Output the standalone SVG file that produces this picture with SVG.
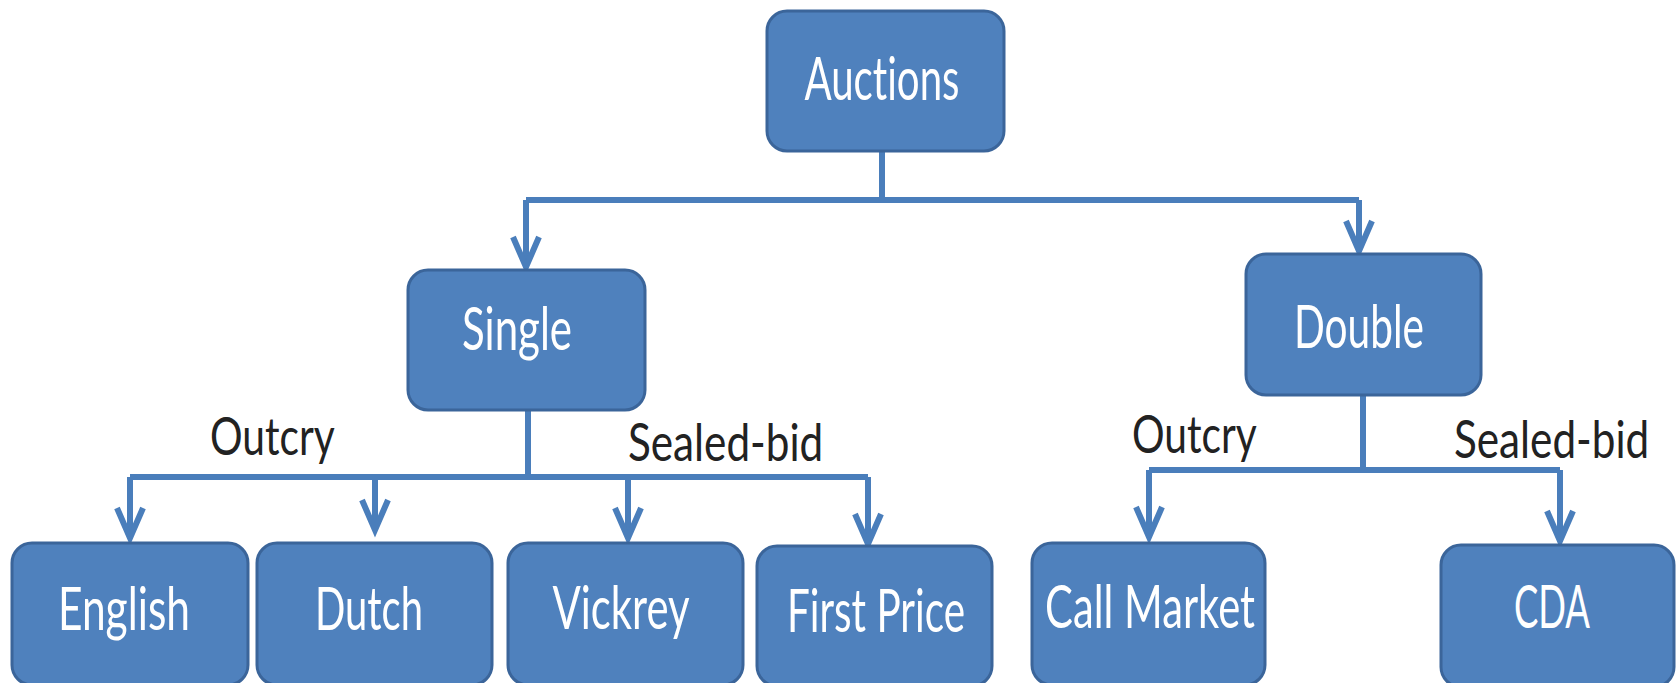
<svg xmlns="http://www.w3.org/2000/svg" width="1678" height="683" viewBox="0 0 1678 683">
<style>
.box{fill:#4F81BD;stroke:#3B659A;stroke-width:3}
.nt{fill:#ffffff;font-family:Lato,"Open Sans","Liberation Sans",sans-serif;font-size:60px;text-anchor:middle;font-variant-ligatures:none}
.lb{fill:#222222;font-family:Lato,"Open Sans","Liberation Sans",sans-serif;font-size:52px;font-variant-ligatures:none}
.c{fill:none;stroke:#4A7EBB;stroke-width:6}
.a{marker-end:url(#arr)}
</style>
<defs>
<marker id="arr" markerUnits="userSpaceOnUse" viewBox="-40 -20 44 40" markerWidth="44" markerHeight="40" refX="0" refY="0" orient="auto" overflow="visible">
<path d="M -30 -13 L 0 0 L -30 13" fill="none" stroke="#4A7EBB" stroke-width="6" stroke-linejoin="miter"/>
</marker>
</defs>
<rect width="1678" height="683" fill="#ffffff"/>
<g id="connectors">
<path class="c" d="M 882 152 V 200 M 526 200 H 1359"/>
<path class="c a" d="M 526 200 V 267"/>
<path class="c a" d="M 1359 200 V 251"/>
<path class="c" d="M 528 410 V 477 M 130 477 H 868"/>
<path class="c a" d="M 130 477 V 538"/>
<path class="c a" d="M 375 477 V 530"/>
<path class="c a" d="M 628 477 V 538"/>
<path class="c a" d="M 868 477 V 544"/>
<path class="c" d="M 1363 395 V 470 M 1149 470 H 1560"/>
<path class="c a" d="M 1149 470 V 537"/>
<path class="c a" d="M 1560 470 V 541"/>
</g>
<g id="labels">
<text class="lb" transform="translate(210,455) scale(0.8,1)" textLength="156" lengthAdjust="spacingAndGlyphs">Outcry</text>
<text class="lb" transform="translate(628,461) scale(0.8,1)" textLength="244" lengthAdjust="spacingAndGlyphs">Sealed-bid</text>
<text class="lb" transform="translate(1132,453) scale(0.8,1)" textLength="156" lengthAdjust="spacingAndGlyphs">Outcry</text>
<text class="lb" transform="translate(1454,458) scale(0.8,1)" textLength="244" lengthAdjust="spacingAndGlyphs">Sealed-bid</text>
</g>
<g id="auctions">
<rect class="box" x="767" y="11" width="237" height="140" rx="20"/>
<text class="nt" x="882" y="100" textLength="155" lengthAdjust="spacingAndGlyphs">Auctions</text>
</g>
<g id="single">
<rect class="box" x="408" y="270" width="237" height="140" rx="20"/>
<text class="nt" x="517" y="350" textLength="110" lengthAdjust="spacingAndGlyphs">Single</text>
</g>
<g id="double">
<rect class="box" x="1246" y="254" width="235" height="141" rx="20"/>
<text class="nt" x="1359" y="348" textLength="130" lengthAdjust="spacingAndGlyphs">Double</text>
</g>
<g id="english">
<rect class="box" x="12" y="543" width="236" height="142" rx="20"/>
<text class="nt" x="124" y="630" textLength="132" lengthAdjust="spacingAndGlyphs">English</text>
</g>
<g id="dutch">
<rect class="box" x="257" y="543" width="235" height="142" rx="20"/>
<text class="nt" x="369" y="630" textLength="108" lengthAdjust="spacingAndGlyphs">Dutch</text>
</g>
<g id="vickrey">
<rect class="box" x="508" y="543" width="235" height="142" rx="20"/>
<text class="nt" x="621" y="629" textLength="137" lengthAdjust="spacingAndGlyphs">Vickrey</text>
</g>
<g id="firstprice">
<rect class="box" x="757" y="546" width="235" height="140" rx="20"/>
<text class="nt" x="876" y="632" textLength="178" lengthAdjust="spacingAndGlyphs">First Price</text>
</g>
<g id="callmarket">
<rect class="box" x="1032" y="543" width="233" height="142" rx="20"/>
<text class="nt" x="1150" y="628" textLength="210" lengthAdjust="spacingAndGlyphs">Call Market</text>
</g>
<g id="cda">
<rect class="box" x="1441" y="545" width="233" height="142" rx="20"/>
<text class="nt" x="1552" y="628" textLength="76" lengthAdjust="spacingAndGlyphs">CDA</text>
</g>
</svg>
